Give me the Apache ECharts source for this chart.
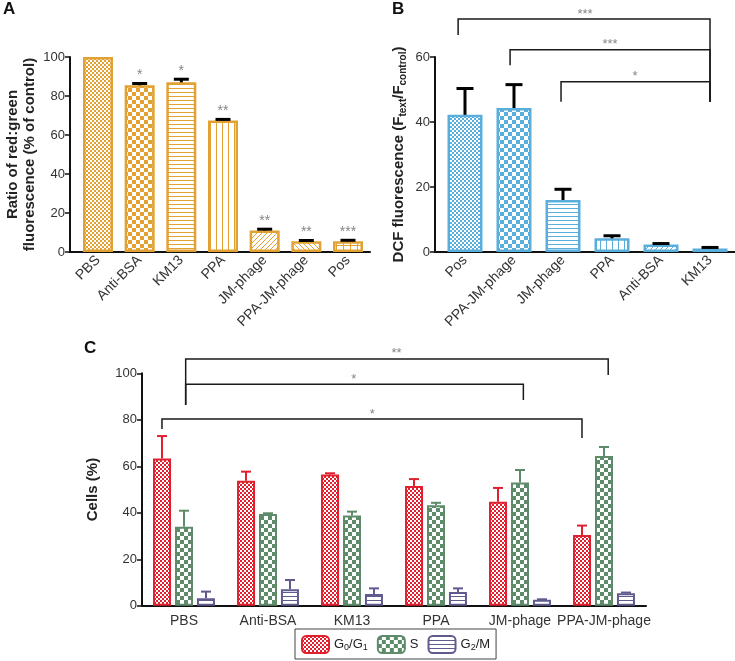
<!DOCTYPE html>
<html><head><meta charset="utf-8">
<script src="https://cdn.jsdelivr.net/npm/echarts@6/dist/echarts.min.js"></script>
<style>html,body{margin:0;padding:0;background:#fff}#c{width:735px;height:661px}</style>
</head><body><div id="c"></div><script>
// ---------- Data ----------
const catA = ['PBS', 'Anti-BSA', 'KM13', 'PPA', 'JM-phage', 'PPA-JM-phage', 'Pos'];
const valA = [100, 85.5, 87, 67.5, 11, 5.5, 5.5];
const errA = [0, 0.9, 1.6, 0.5, 0.7, 0.4, 0.5];
const sigA = ['', '*', '*', '**', '**', '**', '***'];

const catB = ['Pos', 'PPA-JM-phage', 'JM-phage', 'PPA', 'Anti-BSA', 'KM13'];
const valB = [42.2, 44.3, 16, 4.2, 2.3, 1.1];
const errB = [8.1, 7.2, 3.3, 0.8, 0.3, 0.3];

const catC = ['PBS', 'Anti-BSA', 'KM13', 'PPA', 'JM-phage', 'PPA-JM-phage'];
const seriesNamesC = ['G0/G1', 'S', 'G2/M'];
const g0g1 = [63.4, 53.8, 56.5, 51.5, 44.8, 30.5];
const g0g1Err = [9.6, 3.9, 0.5, 3.0, 5.9, 4.0];
const sPhase = [34.0, 39.5, 38.8, 43.2, 53.0, 64.4];
const sPhaseErr = [6.9, 0.3, 1.7, 1.1, 5.4, 3.9];
const g2m = [3.2, 7.1, 5.1, 5.9, 2.6, 5.4];
const g2mErr = [2.9, 4.0, 2.4, 1.6, 0.2, 0.3];

// significance brackets (x in category units, y in data units)
const bracketsB = [
  { label: '***', from: -0.14, to: 5, y: 71.7, leftDrop: 66.8, rightDrop: 46.2, labelAt: 2.45 },
  { label: '***', from: 0.92, to: 5, y: 62.2, leftDrop: 57.5, rightDrop: 46.2, labelAt: 2.96 },
  { label: '*', from: 1.96, to: 5, y: 52.4, leftDrop: 46.2, rightDrop: 46.2, labelAt: 3.47 }
];
const bracketsC = [
  { label: '**', from: 0.02, to: 5.05, y: 106.2, leftDrop: 86.4, rightDrop: 99.3, labelAt: 2.53 },
  { label: '*', from: 0.02, to: 4.04, y: 95.3, leftDrop: 86.4, rightDrop: 88.5, labelAt: 2.02 },
  { label: '*', from: -0.262, to: 4.738, y: 80.3, leftDrop: 76, rightDrop: 72.2, labelAt: 2.24 }
];

// ---------- Styles ----------
const FONT = 'Arial, "Liberation Sans", Helvetica, sans-serif';
const ORANGE = '#E2A133';
const BLUE = '#5AAEDC';
const RED = '#E0202E';
const GREEN = '#5E8C6A';
const PURPLE = '#5F5B8F';

function pat(kind, color) {
  const c = document.createElement('canvas');
  let w = 4, h = 4;
  if (kind === 'check') { w = h = 8; }
  if (kind === 'v') { w = 6; h = 4; }
  if (kind === 'd1' || kind === 'd2') { w = h = 5; }
  if (kind === 'grid') { w = h = 7; }
  c.width = w; c.height = h;
  const g = c.getContext('2d');
  g.fillStyle = '#fff'; g.fillRect(0, 0, w, h);
  g.fillStyle = color;
  switch (kind) {
    case 'fine': g.fillRect(0, 0, 2, 2); g.fillRect(2, 2, 2, 2); break;
    case 'check': g.fillRect(0, 0, 4, 4); g.fillRect(4, 4, 4, 4); break;
    case 'h': g.fillRect(0, 0, w, 1); break;
    case 'v': g.fillRect(0, 0, 1, h); break;
    case 'd1': for (let i = 0; i < 5; i++) g.fillRect(i, 4 - i, 1, 1); break;
    case 'd2': for (let i = 0; i < 5; i++) g.fillRect(i, i, 1, 1); break;
    case 'grid': g.fillRect(0, 0, w, 1); g.fillRect(0, 0, 1, h); break;
  }
  return { image: c, repeat: 'repeat' };
}

const patA = ['fine', 'check', 'h', 'v', 'd1', 'd2', 'grid'];
const patB = ['fine', 'check', 'h', 'v', 'd1', 'd1'];

function errRender(vals, errs, sigs, offsetPx, color, capHalf, lw) {
  return function (params, api) {
    const i = params.dataIndex;
    const v = vals[i], e = errs[i];
    const top = api.coord([i, v]);
    const end = api.coord([i, v + e]);
    const x = top[0] + offsetPx;
    const children = [];
    if (e > 0) {
      children.push({ type: 'line', shape: { x1: x, y1: top[1], x2: x, y2: end[1] }, style: { stroke: color, lineWidth: lw } });
      children.push({ type: 'line', shape: { x1: x - capHalf, y1: end[1], x2: x + capHalf, y2: end[1] }, style: { stroke: color, lineWidth: lw } });
    }
    if (sigs && sigs[i]) {
      children.push({ type: 'text', x: x, y: end[1] - 1, style: { text: sigs[i], fill: '#858585', font: '14px ' + FONT, align: 'center', verticalAlign: 'bottom' } });
    }
    return { type: 'group', children: children };
  };
}

function bracketRender(brackets) {
  return function (params, api) {
    if (params.dataIndex > 0) return;
    const bw = api.size([1, 0])[0];
    const x0 = api.coord([0, 0])[0];
    const X = v => x0 + v * bw;
    const Y = v => api.coord([0, v])[1];
    const children = [];
    brackets.forEach(b => {
      children.push({
        type: 'polyline',
        shape: { points: [[X(b.from), Y(b.leftDrop)], [X(b.from), Y(b.y)], [X(b.to), Y(b.y)], [X(b.to), Y(b.rightDrop)]] },
        style: { stroke: '#1a1a1a', lineWidth: 1.5, fill: null }
      });
      children.push({
        type: 'text', x: X(b.labelAt), y: Y(b.y) + 1.5,
        style: { text: b.label, fill: '#858585', font: '13px ' + FONT, align: 'center', verticalAlign: 'bottom' }
      });
    });
    return { type: 'group', children: children };
  };
}

function yAx(grid, max, name, nameGap, extra) {
  return Object.assign({
    type: 'value', gridIndex: grid, min: 0, max: max, interval: 20,
    axisLine: { show: true, onZero: false, lineStyle: { color: '#111', width: 2 } },
    axisTick: { show: true, length: 5, lineStyle: { color: '#111', width: 1.5 } },
    splitLine: { show: false },
    axisLabel: { fontSize: 13, color: '#333', fontFamily: FONT, margin: 5 },
    name: name, nameLocation: 'middle', nameRotate: 90, nameGap: nameGap,
    nameTextStyle: { fontSize: 15, fontWeight: 'bold', color: '#222', fontFamily: FONT, lineHeight: 17 }
  }, extra || {});
}
// value-type x axis for panels A and B: categories at integer positions
function xAxVal(grid, cats, min, max) {
  return {
    type: 'value', gridIndex: grid, min: min, max: max,
    axisLine: { show: true, onZero: false, lineStyle: { color: '#111', width: 2 } },
    axisTick: { show: false }, splitLine: { show: false },
    axisLabel: { customValues: cats.map((_, i) => i), formatter: v => cats[Math.round(v)] || '',
      rotate: 45, fontSize: 14, color: '#333', fontFamily: FONT, margin: 6 }
  };
}
function xAxCat(grid, data) {
  return {
    type: 'category', gridIndex: grid, data: data,
    axisLine: { show: true, onZero: false, lineStyle: { color: '#111', width: 2 } },
    axisTick: { show: false },
    axisLabel: { interval: 0, fontSize: 14, color: '#333', fontFamily: FONT, margin: 8 }
  };
}

const option = {
  animation: false,
  backgroundColor: '#fff',
  grid: [
    { left: 70, top: 57, width: 300, height: 195, outerBoundsMode: 'none' },
    { left: 435, top: 57, width: 300, height: 195, outerBoundsMode: 'none' },
    { left: 142, top: 373.3, width: 504, height: 232.5, outerBoundsMode: 'none' }
  ],
  xAxis: [xAxVal(0, catA, -0.672, 6.528), xAxVal(1, catB, -0.612, 5.51), xAxCat(2, catC)],
  yAxis: [
    yAx(0, 100, 'Ratio of red:green\nfluorescence (% of control)', 32),
    yAx(1, 60, 'DCF fluorescence (F{sub|text}/F{sub|control})', 27, {
      nameTextStyle: { fontSize: 15, fontWeight: 'bold', color: '#222', fontFamily: FONT,
        rich: { sub: { fontSize: 10, fontWeight: 'bold', color: '#222', fontFamily: FONT, padding: [8, 0, 0, 0] } } }
    }),
    yAx(2, 100, 'Cells (%)', 41)
  ],
  legend: {
    data: seriesNamesC, left: 295, top: 629, itemWidth: 27, itemHeight: 17, itemGap: 9,
    borderColor: '#444', borderWidth: 1, padding: [6, 6, 5, 6],
    textStyle: { fontSize: 13, color: '#222', fontFamily: FONT,
      rich: { sub: { fontSize: 9, color: '#222', fontFamily: FONT, padding: [7, 0, 0, 0] } } },
    formatter: n => n.replace(/G(\d)/g, 'G{sub|$1}')
  },
  graphic: [
    { type: 'text', left: 3, top: 1, style: { text: 'A', font: 'bold 17px ' + FONT, fill: '#111' } },
    { type: 'text', left: 392, top: 1, style: { text: 'B', font: 'bold 17px ' + FONT, fill: '#111' } },
    { type: 'text', left: 84, top: 340, style: { text: 'C', font: 'bold 17px ' + FONT, fill: '#111' } }
  ],
  series: [
    { type: 'bar', xAxisIndex: 0, yAxisIndex: 0, barWidth: 30,
      data: valA.map((v, i) => ({ value: [i, v], itemStyle: { color: pat(patA[i], ORANGE), borderColor: ORANGE, borderWidth: 2.5 } })) },
    { type: 'custom', xAxisIndex: 0, yAxisIndex: 0, z: 5,
      data: valA.map((v, i) => [i, v + errA[i]]),
      renderItem: errRender(valA, errA, sigA, 0, '#000', 7.5, 3) },

    { type: 'bar', xAxisIndex: 1, yAxisIndex: 1, barWidth: 35,
      data: valB.map((v, i) => ({ value: [i, v], itemStyle: { color: pat(patB[i], BLUE), borderColor: BLUE, borderWidth: 2.5 } })) },
    { type: 'custom', xAxisIndex: 1, yAxisIndex: 1, z: 5,
      data: valB.map((v, i) => [i, v + errB[i]]),
      renderItem: errRender(valB, errB, null, 0, '#000', 8.5, 3) },
    { type: 'custom', xAxisIndex: 1, yAxisIndex: 1, z: 5, data: [[0, 0]],
      renderItem: bracketRender(bracketsB) },

    { name: 'G0/G1', type: 'bar', xAxisIndex: 2, yAxisIndex: 2, barWidth: 18, barGap: '22%',
      itemStyle: { color: pat('fine', RED), borderColor: RED, borderWidth: 2 }, data: g0g1 },
    { name: 'S', type: 'bar', xAxisIndex: 2, yAxisIndex: 2, barWidth: 18, barGap: '22%',
      itemStyle: { color: pat('check', GREEN), borderColor: GREEN, borderWidth: 2 }, data: sPhase },
    { name: 'G2/M', type: 'bar', xAxisIndex: 2, yAxisIndex: 2, barWidth: 18, barGap: '22%',
      itemStyle: { color: pat('h', PURPLE), borderColor: PURPLE, borderWidth: 2 }, data: g2m },
    { type: 'custom', xAxisIndex: 2, yAxisIndex: 2, z: 5, data: g0g1.map((v, i) => [i, v]),
      renderItem: errRender(g0g1, g0g1Err, null, -22, RED, 5, 2) },
    { type: 'custom', xAxisIndex: 2, yAxisIndex: 2, z: 5, data: sPhase.map((v, i) => [i, v]),
      renderItem: errRender(sPhase, sPhaseErr, null, 0, GREEN, 5, 2) },
    { type: 'custom', xAxisIndex: 2, yAxisIndex: 2, z: 5, data: g2m.map((v, i) => [i, v]),
      renderItem: errRender(g2m, g2mErr, null, 22, PURPLE, 5, 2) },
    { type: 'custom', xAxisIndex: 2, yAxisIndex: 2, z: 5, data: [[0, 0]],
      renderItem: bracketRender(bracketsC) }
  ]
};
const chart = echarts.init(document.getElementById('c'), null, { renderer: 'canvas' });
chart.setOption(option);
</script></body></html>
